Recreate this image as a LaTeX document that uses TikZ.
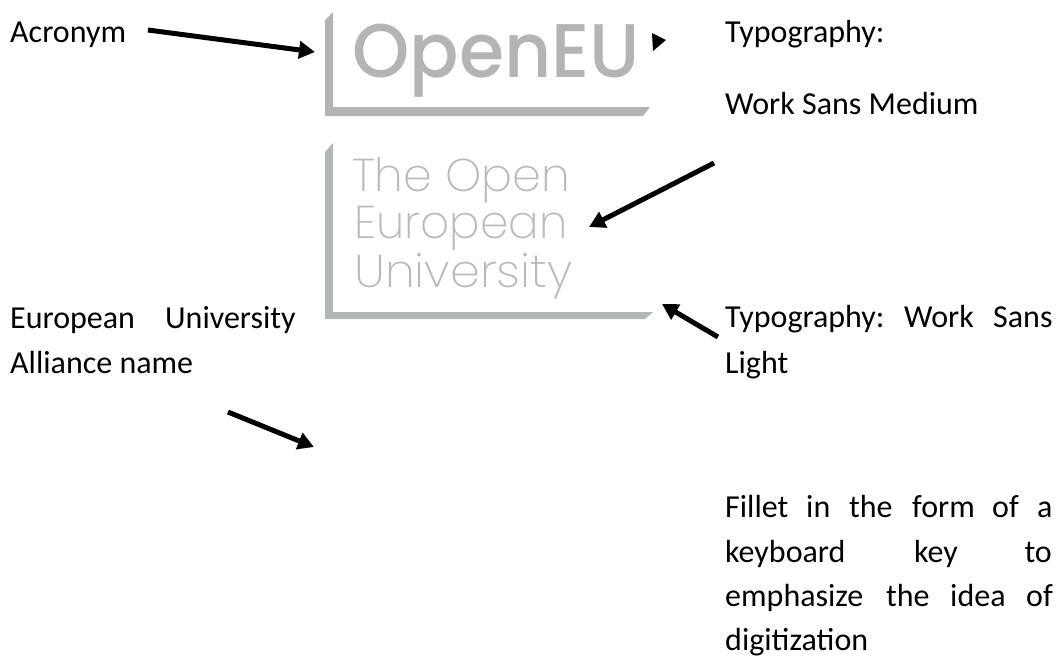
\documentclass[tikz,border=0pt]{standalone}
\usepackage{fontspec}
\setmainfont{Carlito}
\newfontfamily\logomed{Poppins Medium}
\newfontfamily\logolight{Poppins ExtraLight}
\usetikzlibrary{arrows.meta}
\definecolor{logogrey}{HTML}{B3B5B5}
\definecolor{logoline}{HTML}{B1B6B6}
\definecolor{lighttext}{HTML}{B8BABA}
\tikzset{
 x=1pt,y=-1pt,
 lbl/.style={anchor=base west,inner sep=0pt,font=\fontsize{32}{38}\selectfont,text=black},
 lblr/.style={lbl,anchor=base east},
 med/.style={anchor=base west,inner sep=0pt,font=\logomed\fontsize{76}{76}\selectfont,text=logogrey},
 lgt/.style={anchor=base west,inner sep=0pt,font=\logolight\fontsize{46}{46}\selectfont,text=lighttext},
 arr/.style={line width=5pt,black,-{Triangle[length=16pt,width=17pt]}},
}
\begin{document}
\begin{tikzpicture}
\useasboundingbox (0,0) rectangle (1058,657);
\fill[logogrey] (325,20) -- (333,12) -- (333,107) -- (650,107) -- (643,116) -- (325,116) -- cycle;
\fill[logoline] (325,152) -- (333,143) -- (333,312) -- (653,312) -- (645,319) -- (325,319) -- cycle;
\node[med] (openeu) at (352.5,77) {\scalebox{0.96}[1]{OpenEU}};
\node[lgt] (theopen) at (352,191) {The Open};
\node[lgt] (european) at (354,238) {\scalebox{0.985}[1]{European}};
\node[lgt] (university) at (354,287) {\scalebox{1.04}[1]{University}};
\node[lbl] (acronym) at (10,42) {Acronym};
\node[lbl] (typoa) at (725,42) {Typography:};
\node[lbl] (workmed) at (725,114) {Work Sans Medium};
\node[lbl] (eu1) at (10,328) {European};
\node[lbl] (eu2) at (165,328) {University};
\node[lbl] (alliance) at (10,373) {Alliance name};
\node[lbl] (ty1) at (725,327) {Typography:};
\node[lbl] (ty2) at (904,327) {Work};
\node[lbl] (ty3) at (993,327) {Sans};
\node[lbl] (light) at (725,373) {Light};
\node[lbl] (f1a) at (725,517) {Fillet};
\node[lbl] (f1b) at (806,517) {in};
\node[lbl] (f1c) at (849,517) {the};
\node[lbl] (f1d) at (912,517) {form};
\node[lbl] (f1e) at (992,517) {of};
\node[lbl] (f1f) at (1037,517) {a};
\node[lbl] (f2a) at (725,562) {keyboard};
\node[lbl] (f2b) at (914,562) {key};
\node[lblr] (f2c) at (1052,562) {to};
\node[lbl] (f3a) at (725,606) {emphasize};
\node[lbl] (f3b) at (886,606) {the};
\node[lbl] (f3c) at (950,606) {idea};
\node[lbl] (f3d) at (1026,606) {of};
\node[lbl] (f4) at (725,650) {digitization};
\coordinate (a1s) at (148,30);
\coordinate (a1e) at (315,52);
\coordinate (a3s) at (714,163);
\coordinate (a3e) at (589,227);
\coordinate (a4s) at (718,337);
\coordinate (a4e) at (662,304);
\coordinate (a5s) at (228,412);
\coordinate (a5e) at (314,447);
\draw[arr] (a1s) -- (a1e);
\draw[arr] (a3s) -- (a3e);
\draw[arr] (a4s) -- (a4e);
\draw[arr] (a5s) -- (a5e);
\fill[black] (652,33) -- (666,40) -- (653,51) -- cycle;
\end{tikzpicture}
\end{document}
